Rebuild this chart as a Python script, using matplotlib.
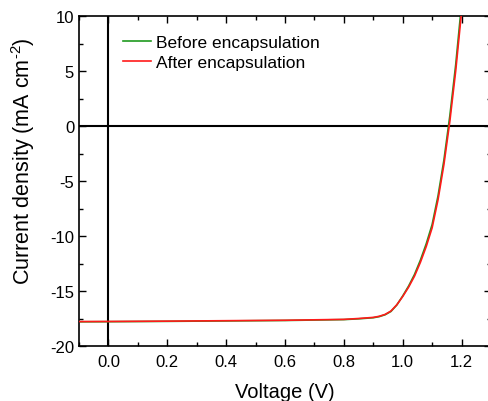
import matplotlib
matplotlib.use("Agg")
import matplotlib.pyplot as plt
from matplotlib.ticker import MultipleLocator

plt.rcParams['font.family'] = ['Liberation Sans', 'DejaVu Sans']
plt.rcParams['mathtext.fontset'] = 'custom'
plt.rcParams['mathtext.rm'] = 'Liberation Sans'
plt.rcParams['mathtext.it'] = 'Liberation Sans:italic'
plt.rcParams['axes.unicode_minus'] = False

# Données J-V
voltage = [-0.1, 0.0, 0.2, 0.4, 0.6, 0.7, 0.8, 0.85, 0.9, 0.92, 0.94, 0.96,
           0.98, 1.00, 1.02, 1.04, 1.06, 1.08, 1.10, 1.12, 1.14, 1.16, 1.18, 1.20]
j_before = [-17.80, -17.79, -17.76, -17.72, -17.68, -17.64, -17.60, -17.53,
            -17.43, -17.33, -17.16, -16.86, -16.27, -15.45, -14.55, -13.50,
            -12.20, -10.70, -8.95, -6.35, -3.10, 0.90, 5.55, 11.10]
j_after = [-17.78, -17.77, -17.74, -17.70, -17.66, -17.62, -17.58, -17.50,
           -17.40, -17.30, -17.13, -16.82, -16.25, -15.50, -14.65, -13.65,
           -12.40, -10.95, -9.25, -6.70, -3.50, 0.40, 5.00, 10.40]

fig = plt.figure(figsize=(4.88, 4.02), dpi=100)
ax = fig.add_axes([79 / 488, 55 / 402, 412 / 488, 330 / 402])

ax.axhline(0, color='black', lw=1.5, zorder=1)
ax.axvline(0, color='black', lw=1.5, zorder=1)
ax.plot(voltage, j_before, color='#1f9a1f', lw=1.2, label='Before encapsulation', zorder=2)
ax.plot(voltage, j_after, color='#ff1a1a', lw=1.2, label='After encapsulation', zorder=3)

ax.set_xlim(-0.1, 1.3)
ax.set_ylim(-20, 10)
ax.xaxis.set_major_locator(MultipleLocator(0.2))
ax.xaxis.set_minor_locator(MultipleLocator(0.1))
ax.yaxis.set_major_locator(MultipleLocator(5))
ax.yaxis.set_minor_locator(MultipleLocator(2.5))
ax.set_xticks([0.0, 0.2, 0.4, 0.6, 0.8, 1.0, 1.2])
ax.set_xticklabels(['0.0', '0.2', '0.4', '0.6', '0.8', '1.0', '1.2'])
ax.tick_params(which='both', direction='in', top=True, right=True, labelsize=12, width=1.0)
ax.tick_params(which='major', length=5)
ax.tick_params(axis='x', which='major', pad=6)
ax.tick_params(which='minor', length=3)
for s in ax.spines.values():
    s.set_linewidth(1.2)

ax.set_xlabel('Voltage (V)', fontsize=14.5, labelpad=9)
ax.set_ylabel(r'Current density (mA cm$^{\text{-2}}$)', fontsize=15.5)
ax.yaxis.set_label_coords(-0.102, 0.564)

ax.legend(loc='upper left', bbox_to_anchor=(0.107, 0.942), frameon=False, fontsize=12.5,
          borderpad=0, borderaxespad=0, handlelength=1.6, handletextpad=0.3,
          labelspacing=0.24)

plt.savefig("out.png", dpi=100)
